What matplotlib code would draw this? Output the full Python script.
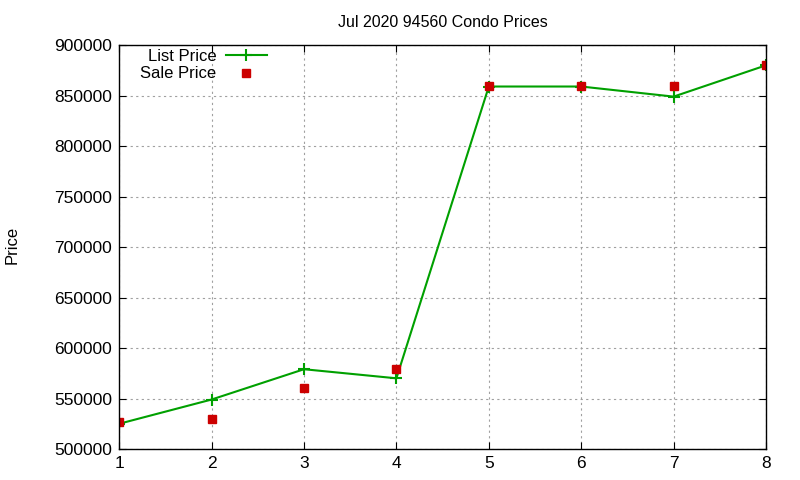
import matplotlib
matplotlib.use("Agg")
import matplotlib.pyplot as plt

plt.rcParams["font.family"] = ["Liberation Sans", "DejaVu Sans"]

days = [1, 2, 3, 4, 5, 6, 7, 8]
list_price = [525000, 549000, 579000, 570000, 859000, 859000, 849000, 880000]
sale_price = [527000, 530000, 560000, 579000, 860000, 860000, 860000, 880000]

GREEN = "#00a000"
RED = "#cc0000"

fig = plt.figure(figsize=(8, 4.8), dpi=100)
ax = fig.add_axes([0.149, 0.0646, 0.8085, 0.8414])

ax.plot(days, list_price, color=GREEN, linewidth=1.5, marker="+", markersize=8,
        markeredgewidth=1.5, label="List Price")
ax.plot(days, sale_price, linestyle="none", marker="s", markersize=6,
        color=RED, label="Sale Price")

ax.set_xlim(1, 8)
ax.set_ylim(500000, 900000)
ax.set_xticks(days)
ax.set_yticks(range(500000, 900001, 50000))
ax.tick_params(direction="in", top=True, right=True, labelsize=12.5, length=5, pad=5)
ax.grid(True, color="#a0a0a0", linestyle=(0, (2, 3)), linewidth=0.8)
for s in ax.spines.values():
    s.set_linewidth(1)

ax.set_title("Jul 2020 94560 Condo Prices", fontsize=11.5, pad=13)
fig.text(0.015, 0.49, "Price", rotation=90, fontsize=12, va="center", ha="center")

ax.legend(loc="upper right", bbox_to_anchor=(0.334, 0.898), bbox_transform=fig.transFigure,
          frameon=False, markerfirst=False, fontsize=12, handlelength=2.5,
          handletextpad=0.55, labelspacing=0.15, borderpad=0, borderaxespad=0)

fig.savefig("out.png", dpi=100)
